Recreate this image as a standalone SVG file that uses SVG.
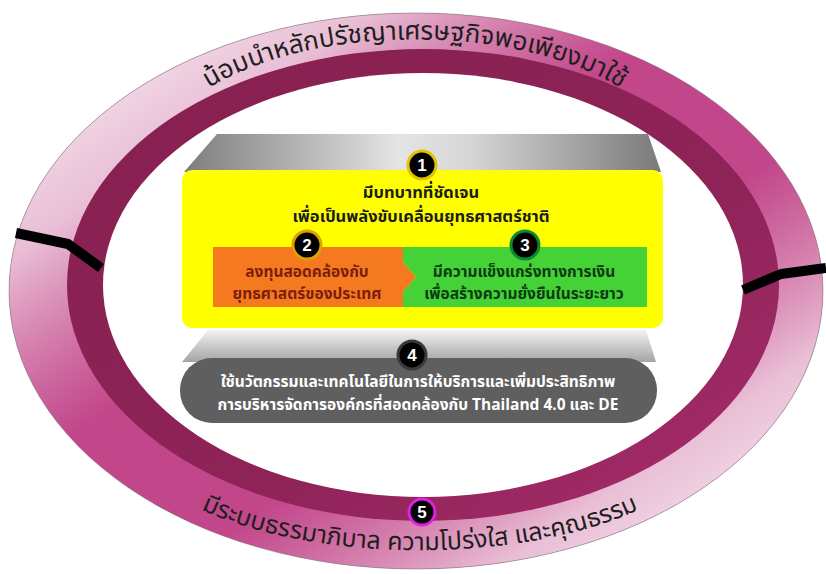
<svg xmlns="http://www.w3.org/2000/svg" width="826" height="574" viewBox="0 0 826 574">
<defs>
<style>
.thai{font-family:"Noto Sans Thai","Noto Sans Thai UI","Noto Sans","DejaVu Sans",sans-serif;}
.ringtxt{fill:#1e1e1e;}
.bold{font-weight:bold;}
.dg{font-family:"Liberation Sans",Arial,sans-serif;font-weight:bold;font-size:17px;fill:#fff;text-anchor:middle;}
.badge{fill:#000;stroke-width:3;}
.divider{fill:none;stroke:#000;stroke-width:10;stroke-linejoin:round;}
</style>
<linearGradient id="ringHi" x1="0" y1="0" x2="1" y2="1">
<stop offset="0.08" stop-color="#f6e6ef" stop-opacity="1"/>
<stop offset="0.22" stop-color="#f0d4e3" stop-opacity="0.85"/>
<stop offset="0.42" stop-color="#e6b3cd" stop-opacity="0"/>
<stop offset="0.6" stop-color="#e6b3cd" stop-opacity="0"/>
<stop offset="0.8" stop-color="#f0d4e3" stop-opacity="0.85"/>
<stop offset="0.92" stop-color="#f6e6ef" stop-opacity="1"/>
</linearGradient>
<linearGradient id="darkBand" x1="0" y1="0" x2="1" y2="1">
<stop offset="0" stop-color="#86204f"/>
<stop offset="0.6" stop-color="#8e2358"/>
<stop offset="1" stop-color="#a92d6c"/>
</linearGradient>
<linearGradient id="topTrap" x1="0" y1="0" x2="1" y2="0">
<stop offset="0" stop-color="#7d7d7d"/>
<stop offset="0.45" stop-color="#e4e4e4"/>
<stop offset="0.6" stop-color="#d6d6d6"/>
<stop offset="1" stop-color="#7a7a7a"/>
</linearGradient>
<linearGradient id="botTrap" x1="0" y1="0" x2="0" y2="1">
<stop offset="0" stop-color="#f2f2f2"/>
<stop offset="1" stop-color="#a4a4a4"/>
</linearGradient>
<path id="topArc" d="M 160 140 A 260 125 0 0 1 670 140"/>
<path id="botArc" d="M 150 478 A 300 128 0 0 0 690 478"/>
</defs>

<g id="ring">
<ellipse cx="416" cy="291" rx="407" ry="278" fill="#c2468a"/>
<ellipse cx="416" cy="291" rx="407" ry="278" fill="url(#ringHi)"/>
<ellipse cx="416" cy="291" rx="407" ry="278" fill="none" stroke="#6a6a6a" stroke-width="0.8" opacity="0.6"/>
<ellipse cx="423" cy="285" rx="356" ry="236" fill="url(#darkBand)"/>
<ellipse cx="423" cy="285" rx="320" ry="212" fill="#ffffff"/>
</g>

<g id="dividers">
<polyline class="divider" points="16,233 68,244 101,268"/>
<polyline class="divider" points="743,290 781,274 826,268"/>
</g>

<g id="ring-top-label">
<text class="thai ringtxt" font-size="26"><textPath href="#topArc" startOffset="50%" text-anchor="middle">น้อมนำหลักปรัชญาเศรษฐกิจพอเพียงมาใช้</textPath></text>
</g>

<g id="node1">
<polygon points="217,134 648,134 661,172 184,172" fill="url(#topTrap)"/>
<rect x="182" y="170" width="481" height="158" rx="10" fill="#ffff00"/>
<text class="thai bold" x="421" y="198" font-size="16.5" fill="#1c1c1c" text-anchor="middle">มีบทบาทที่ชัดเจน</text>
<text class="thai bold" x="421" y="222" font-size="16.5" fill="#1c1c1c" text-anchor="middle">เพื่อเป็นพลังขับเคลื่อนยุทธศาสตร์ชาติ</text>
<circle class="badge" cx="422" cy="165" r="14" stroke="#e2c200"/>
<text class="dg" x="422" y="171">1</text>
</g>

<g id="node2">
<polygon points="213,247 403,247 403,262 416,277 403,292 403,307 213,307" fill="#f57a1f"/>
<text class="thai bold" x="307" y="277" font-size="15.5" fill="#7a1e0c" text-anchor="middle">ลงทุนสอดคล้องกับ</text>
<text class="thai bold" x="307" y="299" font-size="15.5" fill="#7a1e0c" text-anchor="middle">ยุทธศาสตร์ของประเทศ</text>
<circle class="badge" cx="307" cy="245" r="14" stroke="#e0a000"/>
<text class="dg" x="307" y="251">2</text>
</g>

<g id="node3">
<polygon points="403,247 647,247 647,307 403,307 403,292 416,277 403,262" fill="#45d236"/>
<text class="thai bold" x="524" y="277" font-size="15.5" fill="#0c3a10" text-anchor="middle">มีความแข็งแกร่งทางการเงิน</text>
<text class="thai bold" x="524" y="299" font-size="15.5" fill="#0c3a10" text-anchor="middle">เพื่อสร้างความยั่งยืนในระยะยาว</text>
<circle class="badge" cx="525" cy="245" r="14" stroke="#0b8a34"/>
<text class="dg" x="525" y="251">3</text>
</g>

<g id="node4">
<polygon points="208,330 646,330 656,362 182,362" fill="url(#botTrap)"/>
<rect x="180" y="358" width="477" height="65" rx="32" fill="#5f5f5f"/>
<text class="thai bold" x="418" y="387" font-size="15.5" fill="#ffffff" text-anchor="middle">ใช้นวัตกรรมและเทคโนโลยีในการให้บริการและเพิ่มประสิทธิภาพ</text>
<text class="thai bold" x="418" y="410" font-size="15.5" fill="#ffffff" text-anchor="middle">การบริหารจัดการองค์กรที่สอดคล้องกับ Thailand 4.0 และ DE</text>
<circle class="badge" cx="412" cy="355" r="14" stroke="#3a3a3a"/>
<text class="dg" x="412" y="361">4</text>
</g>

<g id="node5">
<text class="thai ringtxt" font-size="25"><textPath href="#botArc" startOffset="50%" text-anchor="middle">มีระบบธรรมาภิบาล ความโปร่งใส และคุณธรรม</textPath></text>
<circle class="badge" cx="422" cy="512" r="13" stroke="#e21ee6"/>
<text class="dg" x="422" y="518">5</text>
</g>
</svg>
